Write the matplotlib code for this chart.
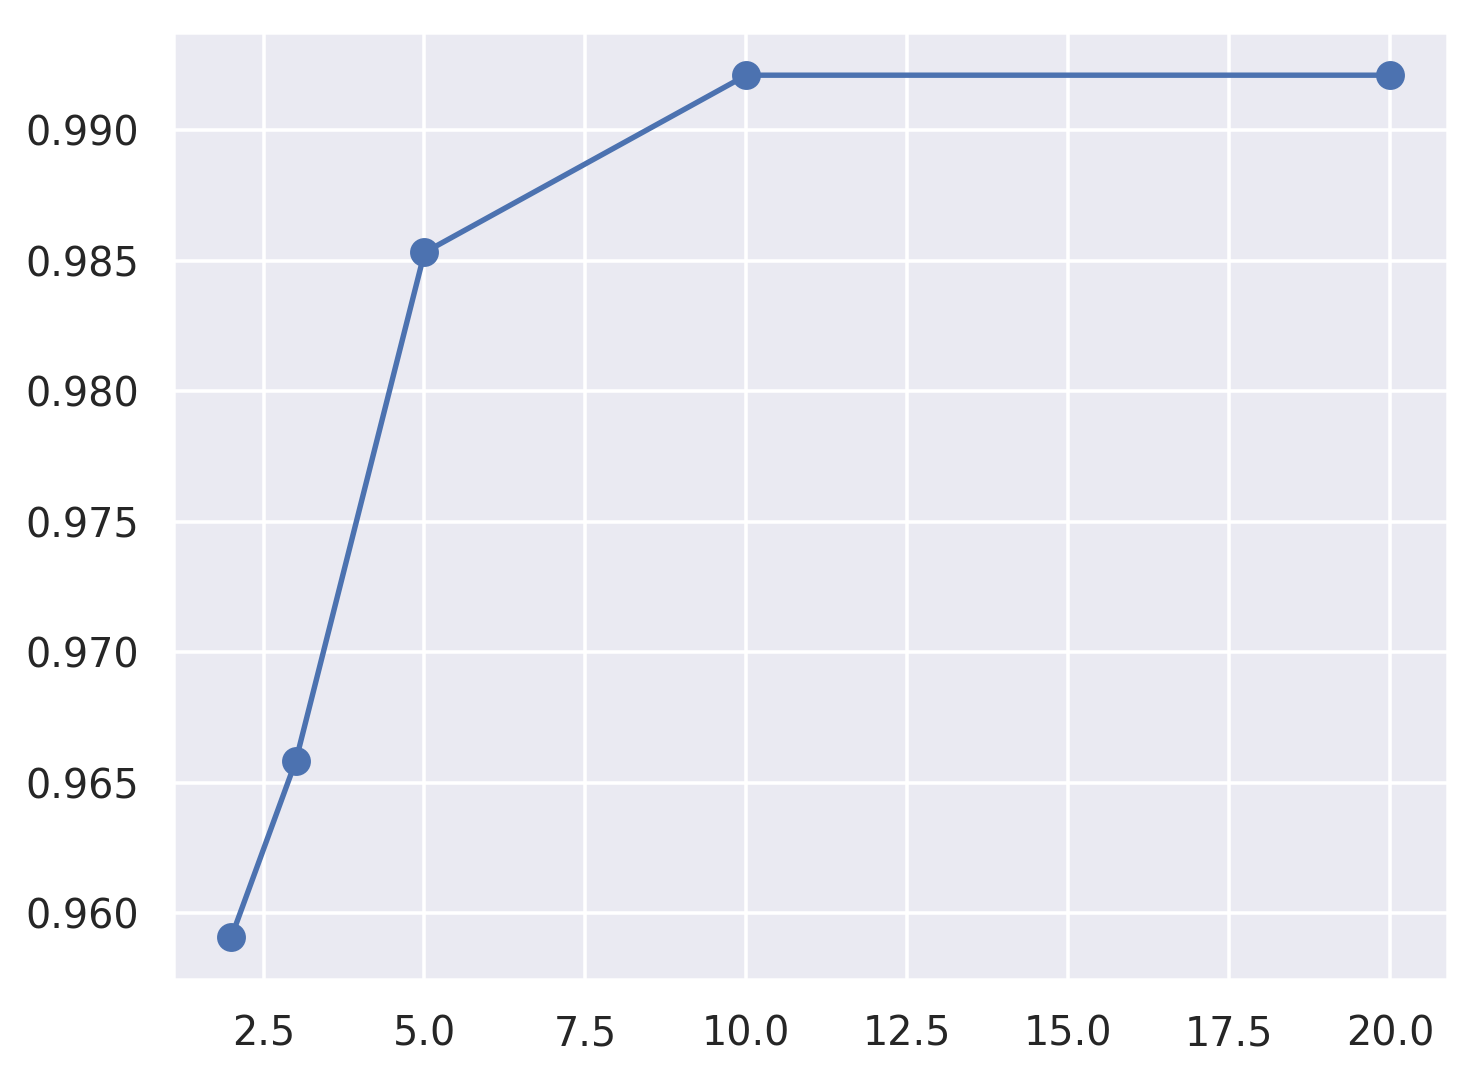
import matplotlib
matplotlib.use("Agg")
import matplotlib.pyplot as plt
import seaborn as sns

sns.set_theme(style="darkgrid")

k_values = [2, 3, 5, 10, 20]
scores = [0.95909, 0.96583, 0.98531, 0.99210, 0.99210]

fig, ax = plt.subplots(figsize=(1470 / 260, 1070 / 260), dpi=260)
ax.plot(k_values, scores, marker="o", markersize=7, color="#4c72b0")
ax.set_yticks([0.960, 0.965, 0.970, 0.975, 0.980, 0.985, 0.990])
fig.subplots_adjust(left=0.118, right=0.985, top=0.970, bottom=0.084)
fig.savefig("out.png")
